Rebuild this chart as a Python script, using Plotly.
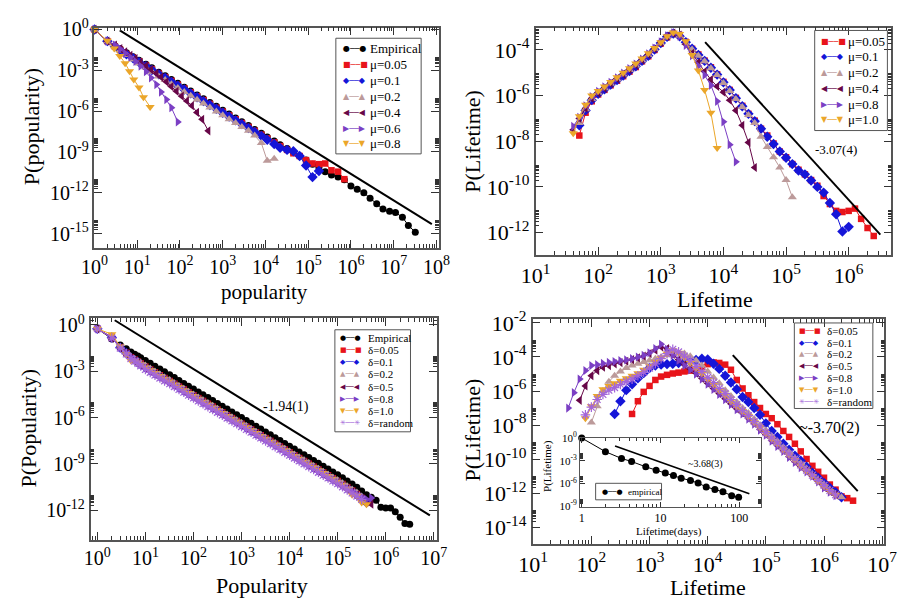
import plotly.graph_objects as go

W, H = 913, 602
SERIF = "Liberation Serif, Times New Roman, serif"
SYMF = "DejaVu Sans"

C_EMP = "#000000"
C_RED = "#e8141a"
C_BLUE = "#1515d8"
C_PINK = "#bc9a9a"
C_MAROON = "#670748"
C_VIOLET = "#7b3fc4"
C_ORANGE = "#eba62a"
C_RANDOM = "#a366d9"

# ---------------- Panel 1: P(popularity), model mu ----------------
P1_X = [1, 2, 3, 4, 5.6, 8, 11, 16, 22, 32, 45, 63, 89, 126, 178, 251, 355, 501, 708,
        1.0e3, 1.41e3, 2.0e3, 2.8e3, 4.0e3, 5.6e3, 8.0e3, 1.1e4, 1.6e4, 2.2e4, 3.2e4, 4.5e4, 6.3e4, 8.9e4,
        1.26e5, 1.78e5, 2.5e5, 3.5e5, 5.0e5, 7.0e5, 1.0e6, 1.4e6, 2.0e6, 2.8e6, 4.0e6, 5.6e6, 8.0e6,
        1.1e7, 1.6e7, 2.2e7, 3.2e7]
# values are log10 P
P1_EMP = [0, -0.86, -1.2, -1.43, -1.72, -2.0, -2.26, -2.56, -2.82, -3.15, -3.4, -3.68, -3.96,
          -4.24, -4.52, -4.81, -5.09, -5.37, -5.65, -5.94, -6.22, -6.5, -6.78, -7.06, -7.35, -7.63,
          -7.9, -8.2, -8.47, -8.75, -9.05, -9.3, -9.6, -9.9, -10.15, -10.45, -10.7, -10.85, -11.05,
          -11.5, -11.75, -12.0, -12.4, -12.8, -13.2, -13.35, -13.45, -13.8, -14.4, -14.9]
P1_M005 = [0, -0.86, -1.25, -1.5, -1.8, -2.08, -2.35, -2.65, -2.92, -3.25, -3.5, -3.78, -4.06,
           -4.34, -4.62, -4.91, -5.19, -5.47, -5.75, -6.04, -6.32, -6.6, -6.88, -7.16, -7.45, -7.73,
           -8.0, -8.3, -8.57, -8.85, -9.1, -9.3, -9.6, -9.85, -9.9, -9.85, -10.35, -10.45, -11.0]
P1_M01 = [0, -0.86, -1.25, -1.52, -1.83, -2.12, -2.4, -2.7, -2.98, -3.3, -3.56, -3.85, -4.13,
          -4.41, -4.7, -4.98, -5.27, -5.55, -5.83, -6.12, -6.4, -6.68, -6.96, -7.25, -7.53, -7.82,
          -8.1, -8.42, -8.7, -8.85, -8.95, -9.3, -10.0, -10.85, -10.4]
P1_M02 = [0, -0.86, -1.25, -1.55, -1.88, -2.2, -2.5, -2.82, -3.1, -3.45, -3.72, -4.02, -4.3,
          -4.6, -4.88, -5.17, -5.45, -5.74, -6.02, -6.3, -6.6, -6.88, -7.16, -7.45, -7.8, -8.35,
          -9.65, -9.5]
P1_M04_X = [1, 2, 3, 4, 5.2, 6.9, 9.1, 12, 16, 21, 28, 36, 48, 63, 83, 110, 145, 190, 250, 330, 460]
P1_M04 = [0, -0.86, -1.15, -1.4, -1.65, -1.9, -2.15, -2.42, -2.68, -2.95, -3.22, -3.5, -3.85,
          -4.2, -4.55, -4.9, -5.25, -5.6, -6.1, -6.6, -7.45]
P1_M06_X = [1, 2, 3, 4, 5.2, 6.9, 9.1, 12, 16, 21, 28, 36, 48, 63, 89]
P1_M06 = [0, -0.86, -1.15, -1.45, -1.75, -2.05, -2.35, -2.7, -3.1, -3.55, -4.05, -4.6, -5.15, -5.75, -6.8]
P1_M08_X = [1, 2, 2.9, 3.9, 5.2, 6.6, 8.3, 11, 14, 20]
P1_M08 = [0, -0.83, -1.4, -1.95, -2.48, -3.07, -3.67, -4.26, -4.98, -5.69]
FIT1_X = [3.9, 7.8e7]
FIT1_Y = [0.85, 5.0e-15]

# ---------------- Panel 2: P(Lifetime), model mu ----------------
P2_X = [40, 50, 63, 79, 100, 126, 158, 200, 251, 316, 398, 501, 631, 794,
        1.0e3, 1.26e3, 1.58e3, 2.0e3, 2.51e3, 3.16e3, 3.98e3, 5.01e3, 6.31e3, 7.94e3,
        1.0e4, 1.26e4, 1.58e4, 2.0e4, 2.51e4, 3.16e4, 3.98e4, 5.01e4, 6.31e4, 7.94e4,
        1.0e5, 1.26e5, 1.58e5, 2.0e5, 2.51e5, 3.16e5, 3.98e5, 5.01e5, 6.31e5, 7.94e5,
        1.0e6, 1.26e6, 1.58e6, 2.0e6, 2.51e6]
P2_M005 = [None, -7.75, -6.75, -6.25, -5.95, -5.75, -5.55, -5.35, -5.15, -4.95,
           -4.75, -4.5, -4.28, -4.0, -3.72, -3.45, -3.3, -3.35, -3.65, -3.95,
           -4.2, -4.47, -4.76, -5.07, -5.4, -5.75, -6.1, -6.45, -6.8, -7.1,
           -7.45, -7.75, -8.1, -8.45, -8.7, -9.0, -9.25, -9.45, -9.7, -9.95,
           -10.4, -10.75, -11.05, -11.1, -11.05, -10.95, -11.4, -11.8, -12.15]
P2_M01 = [None, -7.3, -6.65, -6.2, -5.92, -5.72, -5.52, -5.32, -5.12, -4.92,
          -4.72, -4.48, -4.26, -3.98, -3.7, -3.42, -3.28, -3.4, -3.66, -3.95,
          -4.22, -4.48, -4.78, -5.08, -5.42, -5.76, -6.12, -6.47, -6.8, -7.12,
          -7.45, -7.8, -8.12, -8.45, -8.72, -9.0, -9.28, -9.45, -9.72, -10.0,
          -10.25, -10.7, -11.2, -11.95, -11.75]
P2_M02 = [None, -7.2, -6.6, -6.15, -5.88, -5.68, -5.48, -5.28, -5.08, -4.88,
          -4.68, -4.45, -4.22, -3.96, -3.7, -3.42, -3.27, -3.38, -3.7, -3.98,
          -4.25, -4.5, -4.8, -5.1, -5.45, -5.8, -6.15, -6.5, -6.85, -7.2,
          -7.8, -8.25, -8.7, -9.15, -9.7, -10.45]
P2_M04 = [-7.5, -7.0, -6.55, -6.12, -5.88, -5.68, -5.46, -5.26, -5.06, -4.86,
          -4.66, -4.44, -4.2, -3.95, -3.68, -3.4, -3.26, -3.35, -3.75, -4.15,
          -4.55, -4.95, -5.3, -5.6, -5.85, -6.2, -6.65, -7.3, -8.05, -9.15]
P2_M08 = [-7.35, -6.95, -6.45, -6.05, -5.82, -5.62, -5.42, -5.22, -5.02, -4.82,
          -4.62, -4.4, -4.17, -3.92, -3.65, -3.38, -3.25, -3.4, -3.8, -4.25,
          -4.7, -5.1, -5.55, -6.25, -7.15, -8.15, -8.9]
P2_M10 = [-7.65, -6.9, -6.4, -6.0, -5.8, -5.6, -5.4, -5.2, -5.0, -4.8,
          -4.6, -4.38, -4.15, -3.92, -3.66, -3.4, -3.24, -3.3, -3.62, -4.22,
          -4.9, -5.75, -6.75, -8.3]
FIT2_X = [5.1e3, 3.2e6]
FIT2_Y = [2.2e-4, 8.1e-13]

# ---------------- Panel 3: P(Popularity), model delta ----------------
P3_X = [1, 2, 3, 4, 5, 6, 7, 8,
        10, 12.6, 15.8, 20, 25, 32, 40, 50, 63, 79,
        100, 126, 158, 200, 251, 316, 398, 501, 631, 794,
        1.0e3, 1.26e3, 1.58e3, 2.0e3, 2.51e3, 3.16e3, 3.98e3, 5.01e3, 6.31e3, 7.94e3,
        1.0e4, 1.26e4, 1.58e4, 2.0e4, 2.51e4, 3.16e4, 3.98e4, 5.01e4, 6.31e4, 7.94e4,
        1.0e5, 1.26e5, 1.58e5, 2.0e5, 2.51e5, 3.16e5, 3.98e5, 5.01e5, 6.31e5, 7.94e5,
        1.0e6, 1.26e6, 1.58e6, 2.0e6, 2.51e6, 3.16e6]
P3_EMP = [-0.25, -0.92, -1.3, -1.55, -1.75, -1.9, -2.02, -2.12,
          -2.3, -2.49, -2.68, -2.86, -3.03, -3.23, -3.41, -3.6, -3.79, -3.97,
          -4.15, -4.34, -4.52, -4.7, -4.89, -5.08, -5.26, -5.45, -5.64, -5.82,
          -6.0, -6.19, -6.37, -6.56, -6.74, -6.93, -7.11, -7.3, -7.48, -7.67,
          -7.85, -8.04, -8.22, -8.41, -8.59, -8.78, -8.96, -9.15, -9.33, -9.52,
          -9.7, -9.9, -10.1, -10.3, -10.5, -10.75, -11.0, -11.15, -11.35, -11.8,
          -11.85, -11.85, -12.1, -12.45, -12.85, -12.9]
P3_D005 = [-0.25, -0.8, -1.45, -1.8, -2.1, -2.25, -2.38, -2.5,
           -2.7, -2.89, -3.07, -3.26, -3.44, -3.63, -3.81, -4.0, -4.18, -4.37,
           -4.55, -4.74, -4.92, -5.11, -5.29, -5.48, -5.66, -5.85, -6.03, -6.22,
           -6.4, -6.59, -6.77, -6.96, -7.14, -7.33, -7.51, -7.7, -7.88, -8.07,
           -8.25, -8.44, -8.62, -8.81, -8.99, -9.18, -9.36, -9.55, -9.73, -9.92,
           -10.1, -10.3, -10.5, -10.72, -10.95, -11.2, -11.45]
P3_D01 = [-0.25, -0.82, -1.47, -1.82, -2.12, -2.28, -2.42, -2.55,
          -2.75, -2.94, -3.12, -3.31, -3.49, -3.68, -3.86, -4.05, -4.23, -4.42,
          -4.6, -4.79, -4.97, -5.16, -5.34, -5.53, -5.71, -5.9, -6.08, -6.27,
          -6.45, -6.64, -6.82, -7.01, -7.19, -7.38, -7.56, -7.75, -7.93, -8.12,
          -8.3, -8.49, -8.67, -8.86, -9.04, -9.23, -9.41, -9.6, -9.78, -9.97,
          -10.15, -10.35, -10.55, -10.77, -11.0, -11.2, -11.5]
P3_D02 = [-0.25, -0.8, -1.45, -1.8, -2.05, -2.2, -2.35, -2.45,
          -2.63, -2.83, -3.02, -3.2, -3.4, -3.57, -3.77, -3.95, -4.13, -4.32,
          -4.5, -4.7, -4.87, -5.06, -5.24, -5.43, -5.62, -5.8, -5.98, -6.17,
          -6.35, -6.54, -6.72, -6.91, -7.09, -7.28, -7.46, -7.65, -7.83, -8.02,
          -8.2, -8.39, -8.57, -8.76, -8.94, -9.13, -9.31, -9.5, -9.68, -9.87,
          -10.05, -10.25, -10.45, -10.65, -10.85, -11.1]
P3_D05 = [-0.25, -0.85, -1.5, -1.85, -2.15, -2.32, -2.47, -2.6,
          -2.8, -2.99, -3.17, -3.36, -3.54, -3.73, -3.91, -4.1, -4.28, -4.47,
          -4.65, -4.84, -5.02, -5.21, -5.39, -5.58, -5.76, -5.95, -6.13, -6.32,
          -6.5, -6.69, -6.87, -7.06, -7.24, -7.43, -7.61, -7.8, -7.98, -8.17,
          -8.35, -8.54, -8.72, -8.91, -9.09, -9.28, -9.46, -9.65, -9.83, -10.02,
          -10.2, -10.4, -10.6, -10.8, -11.0, -11.25, -11.45, -11.6]
P3_D08 = [-0.25, -0.8, -1.45, -1.82, -2.1, -2.28, -2.44, -2.56,
          -2.78, -2.97, -3.16, -3.34, -3.53, -3.71, -3.9, -4.08, -4.27, -4.45,
          -4.64, -4.82, -5.01, -5.19, -5.38, -5.56, -5.75, -5.93, -6.12, -6.3,
          -6.49, -6.67, -6.86, -7.04, -7.23, -7.41, -7.6, -7.78, -7.97, -8.15,
          -8.34, -8.52, -8.71, -8.89, -9.08, -9.26, -9.45, -9.63, -9.82, -10.0,
          -10.2, -10.38, -10.58, -10.78, -10.98, -11.15, -11.3, -11.2]
P3_D10 = [-0.25, -0.61, -1.4, -1.9, -2.3, -2.35, -2.45, -2.55,
          -2.75, -2.93, -3.12, -3.3, -3.49, -3.67, -3.86, -4.04, -4.23, -4.41,
          -4.6, -4.78, -4.97, -5.15, -5.34, -5.52, -5.71, -5.89, -6.08, -6.26,
          -6.45, -6.63, -6.82, -7.0, -7.19, -7.37, -7.56, -7.74, -7.93, -8.11,
          -8.3, -8.48, -8.67, -8.85, -9.04, -9.22, -9.41, -9.59, -9.78, -9.96,
          -10.15, -10.35, -10.6, -11.0, -11.05, -11.5, -11.6]
P3_DR = [-0.25, -0.85, -1.5, -1.88, -2.18, -2.35, -2.5, -2.65,
         -2.88, -3.07, -3.25, -3.44, -3.62, -3.81, -3.99, -4.18, -4.36, -4.55,
         -4.73, -4.92, -5.1, -5.29, -5.47, -5.66, -5.84, -6.03, -6.21, -6.4,
         -6.58, -6.77, -6.95, -7.14, -7.32, -7.51, -7.69, -7.88, -8.06, -8.25,
         -8.43, -8.62, -8.8, -8.99, -9.17, -9.36, -9.54, -9.73, -9.91, -10.1,
         -10.28, -10.48, -10.68, -10.88, -11.08, -11.3]
FIT3_X = [2.3, 8.3e6]
FIT3_Y = [2.0, 4.7e-13]

# ---------------- Panel 4: P(Lifetime), model delta ----------------
P4_X = [40, 50, 63, 79, 100, 126, 158, 200, 251, 316, 398, 501, 631, 794,
        1.0e3, 1.26e3, 1.58e3, 2.0e3, 2.51e3, 3.16e3, 3.98e3, 5.01e3, 6.31e3, 7.94e3,
        1.0e4, 1.26e4, 1.58e4, 2.0e4, 2.51e4, 3.16e4, 3.98e4, 5.01e4, 6.31e4, 7.94e4,
        1.0e5, 1.26e5, 1.58e5, 2.0e5, 2.51e5, 3.16e5, 3.98e5, 5.01e5, 6.31e5, 7.94e5,
        1.0e6, 1.26e6, 1.58e6, 2.0e6, 2.51e6, 3.16e6]
P4_D005 = [None, None, None, None, None, None, None, None, None, None,
           None, -7.35, -6.6, -6.05, -5.7, -5.35, -5.15, -5.05, -4.97, -4.92,
           -4.85, -4.8, -4.75, -4.6, -4.42, -4.32, -4.35, -4.45, -4.75, -5.35,
           -5.85, -6.25, -6.65, -7.0, -7.35, -7.6, -7.95, -8.35, -8.7, -9.1,
           -9.55, -10.0, -10.4, -10.75, -11.1, -11.5, -11.8, -12.2, -12.3, -12.45]
P4_D01 = [None, None, None, None, None, None, None, None, -7.35, -6.6,
          -5.95, -5.6, -5.25, -4.95, -4.65, -4.5, -4.45, -4.42, -4.4, -4.35,
          -4.3, -4.25, -4.18, -4.1, -4.15, -4.4, -4.7, -5.1, -5.5, -5.9,
          -6.35, -6.65, -7.0, -7.4, -7.9, -8.35, -8.7, -9.1, -9.45, -9.8,
          -10.1, -10.45, -10.8, -11.1, -11.4, -11.7, -11.95, -12.25]
P4_D02 = [None, None, None, None, -7.85, -6.9, -6.0, -5.45, -5.1, -4.85,
          -4.65, -4.5, -4.4, -4.3, -4.2, -4.1, -4.0, -3.9, -3.85, -3.8,
          -3.8, -3.95, -4.2, -4.5, -4.85, -5.2, -5.55, -5.95, -6.3, -6.65,
          -7.0, -7.3, -7.65, -8.0, -8.3, -8.65, -8.95, -9.3, -9.6, -9.95,
          -10.25, -10.55, -10.9, -11.2, -11.5, -11.8, -12.05, -12.25]
P4_D05 = [None, None, -6.55, -5.7, -5.1, -4.8, -4.6, -4.5, -4.4, -4.33,
          -4.25, -4.15, -4.05, -3.95, -3.8, -3.6, -3.4, -3.5, -3.85, -4.15,
          -4.45, -4.7, -4.95, -5.25, -5.55, -5.85, -6.15, -6.45, -6.75, -7.05,
          -7.3, -7.6, -7.9, -8.25, -8.55, -8.9, -9.2, -9.5, -9.85, -10.15,
          -10.45, -10.7, -11.0, -11.3, -11.65, -11.9, -12.1]
P4_D08 = [-7.0, -6.1, -5.3, -4.8, -4.5, -4.45, -4.38, -4.32, -4.27, -4.22,
          -4.17, -4.1, -4.0, -3.9, -3.75, -3.5, -3.25, -3.55, -3.9, -4.2,
          -4.5, -4.75, -5.0, -5.3, -5.6, -5.9, -6.2, -6.5, -6.8, -7.1,
          -7.35, -7.65, -7.95, -8.3, -8.6, -8.95, -9.25, -9.55, -9.9, -10.2,
          -10.5, -10.75, -11.0, -11.35, -11.7, -11.95, -12.15]
P4_D10 = [None, None, None, -7.6, -6.9, -6.3, -5.9, -5.7, -5.55, -5.4,
          -5.25, -5.1, -4.95, -4.75, -4.55, -4.3, -4.05, -3.8, -3.6, -3.75,
          -4.05, -4.35, -4.65, -4.95, -5.3, -5.6, -5.95, -6.25, -6.6, -6.9,
          -7.2, -7.5, -7.85, -8.15, -8.5, -8.8, -9.1, -9.45, -9.75, -10.05,
          -10.4, -10.7, -11.0, -11.3, -11.6, -11.9, -12.1]
P4_DR = [None, None, None, -7.4, -6.95, -6.5, -6.2, -5.95, -5.8, -5.62,
         -5.45, -5.3, -5.1, -4.9, -4.65, -4.4, -4.1, -3.8, -3.55, -3.7,
         -3.95, -4.2, -4.55, -4.85, -5.2, -5.5, -5.85, -6.15, -6.5, -6.8,
         -7.15, -7.45, -7.8, -8.1, -8.45, -8.75, -9.05, -9.4, -9.7, -10.0,
         -10.35, -10.65, -10.95, -11.25, -11.55, -11.85, -12.1]
FIT4_X = [2.7e4, 3.8e6]
FIT4_Y = [1.3e-4, 1.3e-12]

# ---------------- Inset: empirical lifetime in days ----------------
INS_X = [1, 2, 3.2, 4.3, 6.5, 8.8, 11.5, 14.6, 18.3, 24, 30, 38, 49, 62, 80, 98]
INS_Y = [0, -1.8, -2.7, -3.1, -3.8, -4.25, -4.6, -4.95, -5.3, -5.6, -5.95, -6.45, -6.8, -7.1, -7.6, -7.8]
INS_FIT_X = [2.65, 134]
INS_FIT_Y = [0.089, 4.6e-8]


def pw(vals):
    return [None if v is None else 10 ** v for v in vals]


GLYPH = {"circle": "●", "square": "■", "diamond": "◆", "triangle-up": "▲",
         "triangle-left": "◀", "triangle-right": "▶", "triangle-down": "▼", "asterisk-open": "✳"}
MSIZE = {"circle": 7, "square": 6.5, "diamond": 8, "triangle-up": 8, "triangle-left": 8,
         "triangle-right": 8, "triangle-down": 8, "asterisk-open": 8}

fig = go.Figure()


def add_series(x, logy, name, color, symbol, xa, ya):
    is_open = symbol.endswith("-open")
    fig.add_trace(go.Scatter(
        x=x[:len(logy)], y=pw(logy), mode="lines+markers", name=name,
        line=dict(color=color, width=1),
        marker=dict(symbol=symbol, size=MSIZE[symbol], color=color,
                    line=dict(width=1.2 if is_open else 0, color=color)),
        xaxis=xa, yaxis=ya, showlegend=False, hoverinfo="skip", cliponaxis=False))


def add_fit(x, y, xa, ya, width=2):
    fig.add_trace(go.Scatter(x=x, y=y, mode="lines", line=dict(color="black", width=width),
                             xaxis=xa, yaxis=ya, showlegend=False, hoverinfo="skip"))


PANEL1 = [("Empirical", P1_X, P1_EMP, C_EMP, "circle"),
          ("μ=0.05", P1_X, P1_M005, C_RED, "square"),
          ("μ=0.1", P1_X, P1_M01, C_BLUE, "diamond"),
          ("μ=0.2", P1_X, P1_M02, C_PINK, "triangle-up"),
          ("μ=0.4", P1_M04_X, P1_M04, C_MAROON, "triangle-left"),
          ("μ=0.6", P1_M06_X, P1_M06, C_VIOLET, "triangle-right"),
          ("μ=0.8", P1_M08_X, P1_M08, C_ORANGE, "triangle-down")]
PANEL2 = [("μ=0.05", P2_X, P2_M005, C_RED, "square"),
          ("μ=0.1", P2_X, P2_M01, C_BLUE, "diamond"),
          ("μ=0.2", P2_X, P2_M02, C_PINK, "triangle-up"),
          ("μ=0.4", P2_X, P2_M04, C_MAROON, "triangle-left"),
          ("μ=0.8", P2_X, P2_M08, C_VIOLET, "triangle-right"),
          ("μ=1.0", P2_X, P2_M10, C_ORANGE, "triangle-down")]
PANEL3 = [("Empirical", P3_X, P3_EMP, C_EMP, "circle"),
          ("δ=0.05", P3_X, P3_D005, C_RED, "square"),
          ("δ=0.1", P3_X, P3_D01, C_BLUE, "diamond"),
          ("δ=0.2", P3_X, P3_D02, C_PINK, "triangle-up"),
          ("δ=0.5", P3_X, P3_D05, C_MAROON, "triangle-left"),
          ("δ=0.8", P3_X, P3_D08, C_VIOLET, "triangle-right"),
          ("δ=1.0", P3_X, P3_D10, C_ORANGE, "triangle-down"),
          ("δ=random", P3_X, P3_DR, C_RANDOM, "asterisk-open")]
PANEL4 = [("δ=0.05", P4_X, P4_D005, C_RED, "square"),
          ("δ=0.1", P4_X, P4_D01, C_BLUE, "diamond"),
          ("δ=0.2", P4_X, P4_D02, C_PINK, "triangle-up"),
          ("δ=0.5", P4_X, P4_D05, C_MAROON, "triangle-left"),
          ("δ=0.8", P4_X, P4_D08, C_VIOLET, "triangle-right"),
          ("δ=1.0", P4_X, P4_D10, C_ORANGE, "triangle-down"),
          ("δ=random", P4_X, P4_DR, C_RANDOM, "asterisk-open")]

for spec, xa, ya in [(PANEL1, "x", "y"), (PANEL2, "x2", "y2"), (PANEL3, "x3", "y3"), (PANEL4, "x4", "y4")]:
    for name, x, y, c, s in spec:
        add_series(x, y, name, c, s, xa, ya)

add_fit(FIT1_X, FIT1_Y, "x", "y")
add_fit(FIT2_X, FIT2_Y, "x2", "y2")
add_fit(FIT3_X, FIT3_Y, "x3", "y3")
add_fit(FIT4_X, FIT4_Y, "x4", "y4")
add_series(INS_X, INS_Y, "empirical", C_EMP, "circle", "x5", "y5")
add_fit(INS_FIT_X, INS_FIT_Y, "x5", "y5", width=1.6)


def sup(e):
    return "10<sup>%d</sup>" % e


def log_axis(px_lo, px_hi, rng, major_exps, labels, font_size, anchor, vertical,
             minor_exps=None, ticklen=8, minorlen=4, lw=1.5):
    if minor_exps is None:
        minor_exps = major_exps
    minor_vals = [m * 10.0 ** e for e in minor_exps for m in range(2, 10)]
    if vertical:
        dom = [1 - px_hi / H, 1 - px_lo / H]
    else:
        dom = [px_lo / W, px_hi / W]
    return dict(type="log", domain=dom, range=rng, anchor=anchor,
                tickmode="array", tickvals=[10.0 ** e for e in major_exps], ticktext=labels,
                ticks="inside", ticklen=ticklen, tickwidth=1, tickcolor="#333",
                minor=dict(tickmode="array", tickvals=minor_vals, ticks="inside",
                           ticklen=minorlen, tickwidth=1, tickcolor="#333"),
                showline=True, linecolor="#555", linewidth=lw, mirror="allticks",
                showgrid=False, zeroline=False, fixedrange=True,
                tickfont=dict(family=SERIF, size=font_size, color="black"))


e1x = list(range(0, 9))
e1y = [0, -3, -6, -9, -12, -15]
e2x = list(range(1, 7))
e2y = [-4, -6, -8, -10, -12]
e3x = list(range(0, 8))
e3y = [0, -3, -6, -9, -12]
e4x = list(range(1, 8))
e4y = [-2, -4, -6, -8, -10, -12, -14]
e5x = [0, 1, 2]
e5y = [0, -3, -6, -9]

fig.update_layout(
    width=W, height=H, autosize=False,
    margin=dict(l=0, r=0, t=0, b=0),
    paper_bgcolor="white", plot_bgcolor="white",
    xaxis=log_axis(82, 437, [0, 8.05], e1x, [sup(e) for e in e1x], 20, "y", False),
    yaxis=log_axis(16, 243, [-16.07, 0.14], e1y, [sup(e) for e in e1y], 20, "x", True),
    xaxis2=log_axis(537, 904, [1.0, 6.68], e2x, [sup(e) for e in e2x], 22, "y2", False),
    yaxis2=log_axis(16, 250, [-12.98, -3.02], e2y, [sup(e) for e in e2y], 22, "x2", True),
    xaxis3=log_axis(78, 435, [-0.14, 7.06], e3x, [sup(e) for e in e3x], 20, "y3", False,
                    minor_exps=[-1] + e3x),
    yaxis3=log_axis(315, 543, [-13.9, 0.44], e3y, [sup(e) for e in e3y], 20, "x3", True),
    xaxis4=log_axis(534, 897, [0.99, 7.04], e4x, [sup(e) for e in e4x], 22, "y4", False),
    yaxis4=log_axis(316, 547, [-14.97, -1.77], e4y, [sup(e) for e in e4y], 22, "x4", True),
    xaxis5=log_axis(583, 770, [-0.02, 2.28], e5x, ["1", "10", "100"], 12, "y5", False,
                    ticklen=5, minorlen=3, lw=1.2),
    yaxis5=log_axis(438, 509, [-9.05, 0.05], e5y, [sup(e) for e in e5y], 11, "x5", True,
                    ticklen=5, minorlen=3, lw=1.2),
)


def paper(px, py):
    return px / W, 1 - py / H


def label(px, py, text, size, angle=0, family=SERIF, color="black", xanchor="center"):
    x, y = paper(px, py)
    fig.add_annotation(x=x, y=y, xref="paper", yref="paper", text=text, showarrow=False,
                       textangle=angle, xanchor=xanchor, yanchor="middle",
                       font=dict(family=family, size=size, color=color))


# axis titles
label(257, 288, "popularity", 21)
label(17, 118, "P(popularity)", 22, angle=-90)
label(722, 296, "Lifetime", 22)
label(472, 133, "P(Lifetime)", 22, angle=-90)
label(255, 590, "Popularity", 22)
label(14, 428, "P(Popularity)", 22, angle=-90)
label(715, 592, "Lifetime", 22)
label(472, 430, "P(Lifetime)", 22, angle=-90)
label(675, 535, "Lifetime(days)", 11)
label(550, 467, "P(Lifetime)", 11, angle=-90)

# slope labels
label(847, 142, "-3.07(4)", 13)
label(280, 406, "-1.94(1)", 14)
label(840, 428, "~-3.70(2)", 16)
label(712, 465, "~3.68(3)", 10)


def legend(spec, box, y0, dy, x_sample, x_label, font_size, glyph_size):
    bx0, by0, bx1, by1 = box
    fig.add_shape(type="rect", xref="paper", yref="paper",
                  x0=bx0 / W, x1=bx1 / W, y0=1 - by1 / H, y1=1 - by0 / H,
                  line=dict(color="#555", width=1), fillcolor="rgba(0,0,0,0)", layer="above")
    for i, (name, _x, _y, c, s) in enumerate(spec):
        g = GLYPH[s]
        yy = y0 + i * dy
        label(x_sample, yy, g + "\u2500\u2500" + g, glyph_size, family=SYMF, color=c, xanchor="left")
        label(x_label, yy, name, font_size, xanchor="left")


legend(PANEL1, (331, 27, 419, 146), 38, 16.3, 336, 364, 13, 8)
legend(PANEL2, (825, 19, 900, 122), 30, 16.2, 829, 857, 13, 8)
legend(PANEL3, (330, 327, 408, 432), 335, 12.6, 333, 362, 11, 7)
legend(PANEL4, (804, 320, 885, 408), 328, 12.2, 807, 836, 11, 7)
legend([("empirical", None, None, C_EMP, "circle")], (599, 485, 667, 502), 493.5, 0, 603, 630, 9, 7)

fig.write_html("out.html", config={"displayModeBar": False},
               post_script="document.body.style.margin='0';")
